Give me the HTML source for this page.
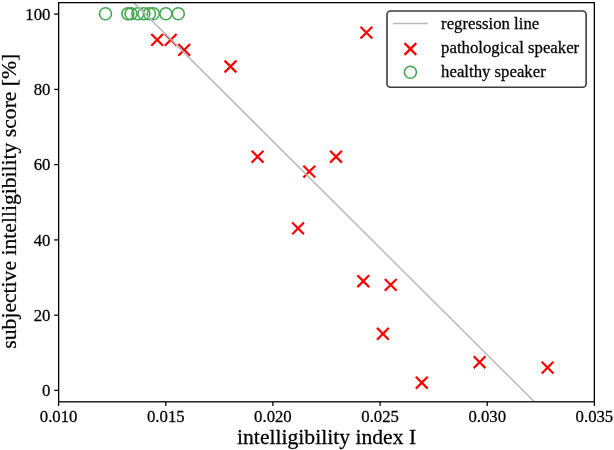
<!DOCTYPE html>
<html><head><meta charset="utf-8"><title>plot</title>
<style>
html,body{margin:0;padding:0;background:#fff;}
body{width:614px;height:450px;overflow:hidden;}
svg{display:block;font-family:"Liberation Serif","Times New Roman",serif;fill:#000;}
.t{font-size:16.75px;}
.l{font-size:21.65px;}
.x line{stroke:#ff0000;stroke-width:2.2;}
.c circle{fill:none;stroke:#42a84f;stroke-width:1.6;}
.tk line{stroke:#000;stroke-width:1.3;}
text{stroke:#000;stroke-width:0.25px;}
</style></head><body>
<svg width="614" height="450" viewBox="0 0 614 450">
<rect width="614" height="450" fill="#fff"/>
<defs><clipPath id="ax"><rect x="58.65" y="2.65" width="535.7" height="399.15000000000003"/></clipPath></defs>

<g class="c">
<circle cx="105.5" cy="13.8" r="6.0"/>
<circle cx="127.9" cy="13.8" r="6.0"/>
<circle cx="131.0" cy="13.8" r="6.0"/>
<circle cx="137.8" cy="13.8" r="6.0"/>
<circle cx="143.9" cy="13.8" r="6.0"/>
<circle cx="149.5" cy="13.8" r="6.0"/>
<circle cx="153.3" cy="13.8" r="6.0"/>
<circle cx="165.9" cy="13.8" r="6.0"/>
<circle cx="178.3" cy="13.8" r="6.0"/>
</g>
<g class="x">
<line x1="151.3" y1="34.0" x2="163.1" y2="45.8"/><line x1="151.3" y1="45.8" x2="163.1" y2="34.0"/>
<line x1="164.8" y1="34.0" x2="176.6" y2="45.8"/><line x1="164.8" y1="45.8" x2="176.6" y2="34.0"/>
<line x1="178.3" y1="44.0" x2="190.1" y2="55.8"/><line x1="178.3" y1="55.8" x2="190.1" y2="44.0"/>
<line x1="224.6" y1="60.6" x2="236.4" y2="72.4"/><line x1="224.6" y1="72.4" x2="236.4" y2="60.6"/>
<line x1="251.7" y1="150.8" x2="263.5" y2="162.6"/><line x1="251.7" y1="162.6" x2="263.5" y2="150.8"/>
<line x1="303.4" y1="165.7" x2="315.2" y2="177.5"/><line x1="303.4" y1="177.5" x2="315.2" y2="165.7"/>
<line x1="330.1" y1="150.8" x2="341.9" y2="162.6"/><line x1="330.1" y1="162.6" x2="341.9" y2="150.8"/>
<line x1="292.2" y1="222.5" x2="304.0" y2="234.3"/><line x1="292.2" y1="234.3" x2="304.0" y2="222.5"/>
<line x1="360.5" y1="26.7" x2="372.3" y2="38.5"/><line x1="360.5" y1="38.5" x2="372.3" y2="26.7"/>
<line x1="357.4" y1="275.3" x2="369.2" y2="287.1"/><line x1="357.4" y1="287.1" x2="369.2" y2="275.3"/>
<line x1="384.8" y1="279.0" x2="396.6" y2="290.8"/><line x1="384.8" y1="290.8" x2="396.6" y2="279.0"/>
<line x1="377.0" y1="327.9" x2="388.8" y2="339.7"/><line x1="377.0" y1="339.7" x2="388.8" y2="327.9"/>
<line x1="415.9" y1="376.8" x2="427.7" y2="388.6"/><line x1="415.9" y1="388.6" x2="427.7" y2="376.8"/>
<line x1="473.7" y1="356.3" x2="485.5" y2="368.1"/><line x1="473.7" y1="368.1" x2="485.5" y2="356.3"/>
<line x1="541.7" y1="361.7" x2="553.5" y2="373.5"/><line x1="541.7" y1="373.5" x2="553.5" y2="361.7"/>
</g>
<g clip-path="url(#ax)"><line x1="113.6" y1="-17.5" x2="554.0" y2="421.4" stroke="#b9b9b9" stroke-width="1.5"/></g>
<rect x="58.65" y="2.65" width="535.7" height="399.15000000000003" fill="none" stroke="#000" stroke-width="1.3"/>
<g class="tk">
<line x1="58.6" y1="401.8" x2="58.6" y2="405.9"/>
<line x1="165.8" y1="401.8" x2="165.8" y2="405.9"/>
<line x1="272.9" y1="401.8" x2="272.9" y2="405.9"/>
<line x1="380.1" y1="401.8" x2="380.1" y2="405.9"/>
<line x1="487.2" y1="401.8" x2="487.2" y2="405.9"/>
<line x1="594.4" y1="401.8" x2="594.4" y2="405.9"/>
<line x1="54.2" y1="390.4" x2="58.6" y2="390.4"/>
<line x1="54.2" y1="315.2" x2="58.6" y2="315.2"/>
<line x1="54.2" y1="239.9" x2="58.6" y2="239.9"/>
<line x1="54.2" y1="164.6" x2="58.6" y2="164.6"/>
<line x1="54.2" y1="89.4" x2="58.6" y2="89.4"/>
<line x1="54.2" y1="14.1" x2="58.6" y2="14.1"/>
</g>
<g class="t" text-anchor="middle">
<text transform="translate(58.6,422.3) scale(1,1.05)">0.010</text>
<text transform="translate(165.8,422.3) scale(1,1.05)">0.015</text>
<text transform="translate(272.9,422.3) scale(1,1.05)">0.020</text>
<text transform="translate(380.1,422.3) scale(1,1.05)">0.025</text>
<text transform="translate(487.2,422.3) scale(1,1.05)">0.030</text>
<text transform="translate(594.4,422.3) scale(1,1.05)">0.035</text>
</g>
<g class="t" text-anchor="end">
<text transform="translate(50.4,396.0) scale(1,1.05)">0</text>
<text transform="translate(50.4,321.0) scale(1,1.05)">20</text>
<text transform="translate(50.4,246.0) scale(1,1.05)">40</text>
<text transform="translate(50.4,170.0) scale(1,1.05)">60</text>
<text transform="translate(50.4,95.0) scale(1,1.05)">80</text>
<text transform="translate(50.4,20.0) scale(1,1.05)">100</text>
</g>
<text class="l" text-anchor="middle" transform="translate(326.6,443.7) scale(1,1.01)">intelligibility index I</text>
<text class="l" text-anchor="middle" transform="translate(15.5,201.2) rotate(-90) scale(1,0.985)">subjective intelligibility score [%]</text>
<rect x="387.0" y="11.0" width="199.15" height="76.2" rx="3.5" ry="3.5" fill="#fff" stroke="#3c3c3c" stroke-width="1.6"/>
<line x1="393" y1="23.4" x2="427.6" y2="23.4" stroke="#b9b9b9" stroke-width="1.5"/>
<g class="x"><line x1="404.5" y1="43.1" x2="416.3" y2="54.9"/><line x1="404.5" y1="54.9" x2="416.3" y2="43.1"/></g>
<g class="c"><circle cx="410.4" cy="72.2" r="6.0"/></g>
<g class="t"><text transform="translate(441.1,29.0) scale(1,1.01)">regression line</text><text transform="translate(441.1,52.9) scale(1,1.01)">pathological speaker</text><text transform="translate(441.1,76.7) scale(1,1.01)">healthy speaker</text></g>
</svg></body></html>
